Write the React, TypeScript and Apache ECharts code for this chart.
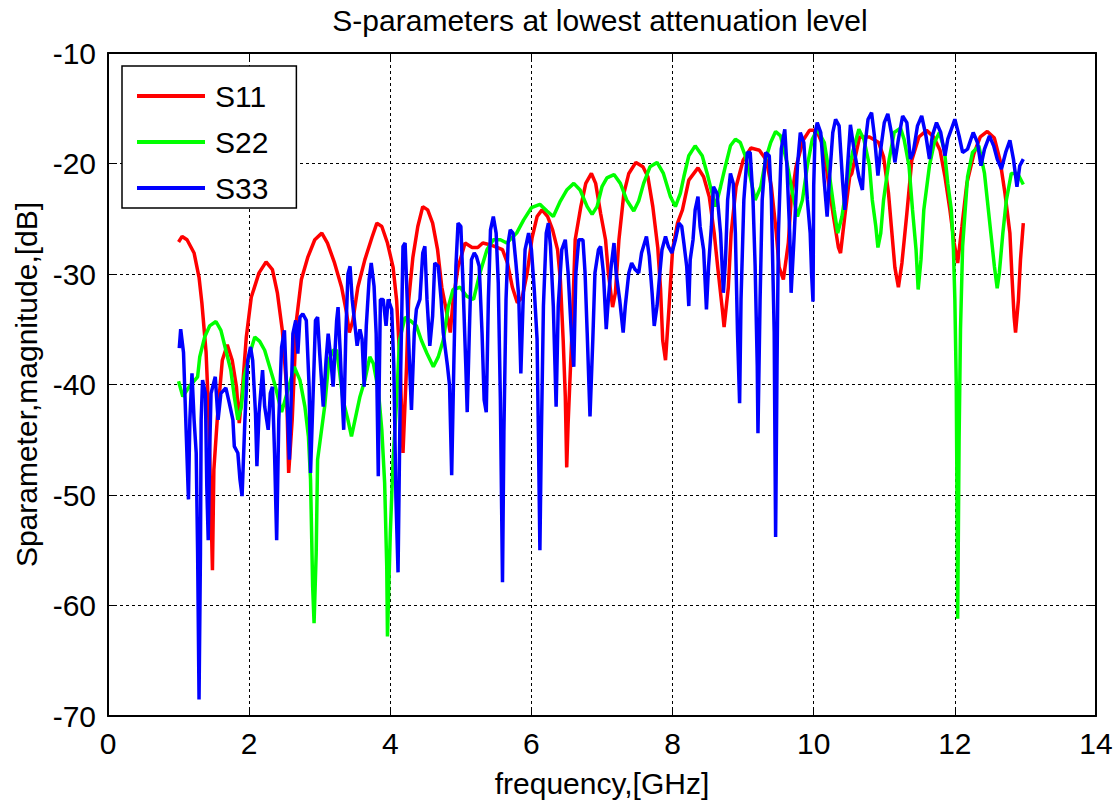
import React, { useEffect, useRef } from "react";
import * as echarts from "echarts";

const chartTitle = "S-parameters at lowest attenuation level";
const xAxisName = "frequency,[GHz]";
const yAxisName = "Sparameter,magnitude,[dB]";
const seriesNames = ["S11", "S22", "S33"];
const seriesColors = ["#ff0000", "#00ff00", "#0000ff"];
const xMin = 0, xMax = 14, xStep = 2;
const yMin = -70, yMax = -10, yStep = 10;

// [frequency GHz, magnitude dB]
const s11: number[][] = [
  [1.0,-27.1],[1.05,-26.6],[1.12,-26.9],[1.22,-28.1],[1.29,-30.3],[1.33,-32.6],[1.39,-37.1],[1.43,-43.2],[1.48,-56.8],[1.50,-47.7],[1.55,-43.0],[1.62,-37.8],[1.69,-36.4],[1.76,-37.8],[1.82,-40.2],[1.86,-43.5],[1.90,-40.8],[1.96,-35.7],[2.03,-32.1],[2.14,-29.9],[2.24,-28.9],[2.33,-29.6],[2.40,-31.7],[2.47,-35.1],[2.53,-40.2],[2.56,-48.0],[2.61,-43.2],[2.67,-34.2],[2.74,-30.5],[2.83,-28.5],[2.93,-26.9],[3.03,-26.3],[3.11,-27.2],[3.21,-29.0],[3.31,-31.2],[3.38,-33.5],[3.42,-35.3],[3.47,-34.2],[3.54,-31.2],[3.64,-28.7],[3.74,-26.7],[3.81,-25.4],[3.88,-25.7],[3.96,-27.2],[4.04,-29.4],[4.09,-32.4],[4.14,-38.4],[4.18,-46.2],[4.23,-38.4],[4.26,-32.4],[4.32,-28.5],[4.39,-25.7],[4.46,-23.9],[4.53,-24.2],[4.60,-25.4],[4.67,-27.8],[4.73,-31.2],[4.80,-33.5],[4.85,-35.3],[4.89,-32.4],[4.96,-29.4],[5.06,-27.2],[5.16,-27.6],[5.24,-27.6],[5.31,-27.2],[5.44,-27.4],[5.59,-27.8],[5.66,-29.0],[5.73,-31.2],[5.80,-32.6],[5.87,-32.1],[5.94,-29.9],[6.01,-26.7],[6.08,-24.8],[6.15,-24.2],[6.23,-24.8],[6.30,-26.0],[6.37,-27.8],[6.41,-30.5],[6.45,-36.0],[6.48,-41.1],[6.50,-47.5],[6.52,-43.5],[6.58,-34.4],[6.62,-26.9],[6.70,-23.9],[6.77,-21.8],[6.85,-20.9],[6.91,-21.8],[6.98,-24.5],[7.05,-26.9],[7.09,-29.9],[7.15,-33.0],[7.19,-31.7],[7.24,-26.9],[7.31,-22.7],[7.38,-20.9],[7.48,-19.9],[7.58,-20.3],[7.65,-21.2],[7.72,-23.9],[7.79,-27.6],[7.83,-31.4],[7.86,-36.0],[7.90,-37.8],[7.95,-33.0],[8.00,-27.8],[8.07,-25.4],[8.14,-24.2],[8.23,-21.5],[8.36,-20.4],[8.44,-21.2],[8.52,-23.0],[8.59,-26.3],[8.64,-29.4],[8.71,-33.5],[8.73,-34.8],[8.79,-31.2],[8.83,-26.3],[8.90,-22.1],[9.00,-19.7],[9.11,-18.6],[9.23,-18.8],[9.33,-19.7],[9.40,-22.1],[9.47,-26.3],[9.51,-29.4],[9.57,-30.5],[9.64,-27.2],[9.68,-23.3],[9.75,-20.3],[9.85,-17.9],[9.94,-17.0],[10.04,-17.0],[10.14,-18.5],[10.21,-21.8],[10.28,-24.8],[10.35,-27.6],[10.38,-28.1],[10.44,-24.8],[10.51,-21.2],[10.54,-20.9],[10.65,-17.6],[10.79,-17.6],[10.92,-18.1],[10.99,-19.4],[11.06,-22.7],[11.10,-25.7],[11.15,-29.4],[11.20,-31.2],[11.25,-29.0],[11.32,-24.5],[11.39,-19.7],[11.49,-17.6],[11.60,-17.0],[11.70,-17.6],[11.79,-18.8],[11.86,-21.2],[11.93,-24.2],[11.99,-27.2],[12.04,-29.0],[12.10,-25.7],[12.17,-21.8],[12.27,-19.1],[12.36,-17.6],[12.46,-17.1],[12.56,-17.7],[12.64,-19.7],[12.71,-22.7],[12.78,-26.3],[12.81,-30.3],[12.84,-33.9],[12.86,-35.3],[12.90,-32.4],[12.93,-28.7],[12.97,-25.4]
];

const s22: number[][] = [
  [1.0,-39.7],[1.06,-41.1],[1.15,-40.2],[1.27,-39.3],[1.30,-37.5],[1.37,-35.7],[1.44,-34.7],[1.53,-34.3],[1.60,-35.1],[1.67,-36.9],[1.74,-38.7],[1.79,-41.1],[1.84,-43.2],[1.89,-42.0],[1.93,-39.3],[2.01,-37.2],[2.08,-35.7],[2.15,-36.1],[2.22,-36.9],[2.29,-38.4],[2.36,-39.9],[2.46,-42.5],[2.55,-40.5],[2.64,-38.4],[2.72,-39.6],[2.79,-42.0],[2.84,-44.7],[2.87,-48.6],[2.90,-58.3],[2.92,-61.6],[2.95,-55.3],[2.97,-46.8],[3.02,-44.4],[3.07,-42.0],[3.13,-37.8],[3.19,-36.9],[3.24,-36.9],[3.28,-38.8],[3.33,-41.4],[3.40,-43.2],[3.45,-44.7],[3.50,-43.2],[3.57,-41.1],[3.64,-39.6],[3.71,-37.5],[3.76,-38.1],[3.83,-40.5],[3.88,-44.1],[3.92,-48.9],[3.95,-56.5],[3.96,-62.8],[4.00,-53.5],[4.04,-46.8],[4.09,-41.4],[4.13,-36.0],[4.21,-33.9],[4.28,-34.2],[4.37,-34.7],[4.44,-36.0],[4.52,-37.2],[4.61,-38.4],[4.68,-37.5],[4.75,-36.0],[4.82,-33.0],[4.89,-31.4],[4.99,-31.2],[5.08,-32.0],[5.18,-32.3],[5.27,-29.9],[5.37,-27.8],[5.46,-26.9],[5.56,-26.9],[5.65,-27.2],[5.79,-26.3],[5.89,-25.1],[6.00,-24.0],[6.12,-23.7],[6.22,-24.3],[6.31,-24.8],[6.41,-23.4],[6.50,-22.4],[6.60,-21.8],[6.69,-22.4],[6.79,-23.9],[6.86,-24.6],[6.93,-23.9],[7.00,-22.1],[7.07,-21.3],[7.17,-21.0],[7.26,-21.8],[7.35,-23.3],[7.45,-24.3],[7.52,-23.4],[7.59,-21.8],[7.68,-20.3],[7.78,-19.9],[7.87,-20.9],[7.97,-23.0],[8.04,-23.9],[8.11,-22.7],[8.16,-21.2],[8.23,-19.3],[8.32,-18.4],[8.42,-19.3],[8.49,-20.9],[8.56,-22.7],[8.61,-23.9],[8.68,-22.1],[8.75,-20.2],[8.82,-18.4],[8.89,-17.8],[8.96,-18.1],[9.03,-19.3],[9.10,-21.2],[9.17,-23.3],[9.25,-22.1],[9.32,-19.6],[9.39,-18.1],[9.46,-17.1],[9.53,-17.5],[9.62,-19.9],[9.70,-22.7],[9.77,-24.8],[9.84,-23.3],[9.91,-20.2],[9.98,-17.8],[10.05,-16.9],[10.15,-18.1],[10.22,-20.9],[10.29,-24.2],[10.34,-26.3],[10.40,-24.8],[10.47,-21.8],[10.55,-19.0],[10.64,-16.9],[10.71,-17.8],[10.79,-20.2],[10.83,-23.3],[10.88,-25.7],[10.91,-27.6],[10.95,-26.3],[10.99,-23.3],[11.07,-19.6],[11.14,-17.2],[11.23,-16.8],[11.28,-17.8],[11.35,-20.2],[11.40,-24.2],[11.45,-27.8],[11.48,-31.4],[11.52,-28.7],[11.56,-24.2],[11.64,-20.2],[11.71,-18.1],[11.78,-17.2],[11.85,-18.7],[11.90,-21.8],[11.95,-24.2],[11.98,-27.8],[12.00,-32.3],[12.02,-40.0],[12.03,-50.0],[12.04,-61.2],[12.06,-45.0],[12.08,-35.0],[12.11,-27.5],[12.18,-21.2],[12.25,-19.0],[12.34,-18.4],[12.42,-20.9],[12.46,-23.3],[12.51,-26.3],[12.56,-29.3],[12.60,-31.3],[12.63,-29.9],[12.68,-26.3],[12.73,-23.3],[12.80,-20.9],[12.89,-20.9],[12.97,-21.9]
];

const s33: number[][] = [
  [1.01,-36.7],[1.03,-35.0],[1.07,-37.1],[1.11,-44.7],[1.14,-50.4],[1.16,-43.2],[1.19,-39.0],[1.22,-43.2],[1.25,-46.2],[1.27,-55.3],[1.29,-68.5],[1.31,-55.3],[1.32,-43.2],[1.34,-39.6],[1.38,-40.8],[1.40,-49.2],[1.42,-54.1],[1.44,-46.2],[1.46,-40.8],[1.52,-39.3],[1.56,-43.2],[1.60,-40.8],[1.67,-40.3],[1.72,-41.7],[1.77,-43.2],[1.79,-45.6],[1.84,-46.2],[1.87,-48.6],[1.90,-50.1],[1.94,-43.2],[1.98,-37.8],[2.02,-36.6],[2.05,-37.8],[2.09,-42.6],[2.11,-47.4],[2.14,-42.6],[2.19,-38.7],[2.22,-42.0],[2.27,-44.1],[2.30,-40.8],[2.33,-40.2],[2.36,-46.2],[2.39,-54.1],[2.42,-43.2],[2.46,-36.6],[2.50,-35.1],[2.53,-40.2],[2.57,-46.8],[2.60,-40.2],[2.62,-35.4],[2.66,-34.2],[2.69,-37.2],[2.72,-33.9],[2.76,-33.6],[2.81,-34.2],[2.85,-40.2],[2.87,-48.0],[2.91,-40.2],[2.94,-34.2],[2.97,-33.9],[3.00,-37.2],[3.05,-42.0],[3.09,-37.8],[3.12,-35.4],[3.15,-37.2],[3.19,-40.2],[3.24,-34.2],[3.26,-33.0],[3.29,-37.0],[3.31,-40.0],[3.34,-44.1],[3.37,-35.4],[3.40,-30.0],[3.43,-29.3],[3.46,-32.3],[3.50,-34.7],[3.53,-36.5],[3.57,-35.0],[3.60,-35.9],[3.63,-40.2],[3.66,-34.7],[3.70,-30.5],[3.73,-29.0],[3.77,-31.1],[3.80,-35.4],[3.83,-48.3],[3.84,-41.4],[3.86,-32.3],[3.90,-32.3],[3.94,-34.7],[3.97,-32.3],[4.02,-33.2],[4.05,-38.3],[4.08,-50.3],[4.11,-57.0],[4.14,-41.4],[4.18,-27.5],[4.21,-27.2],[4.24,-32.3],[4.27,-37.7],[4.30,-42.3],[4.34,-35.3],[4.37,-33.2],[4.42,-32.3],[4.46,-28.1],[4.49,-27.5],[4.52,-32.3],[4.56,-36.5],[4.60,-33.8],[4.63,-29.0],[4.68,-29.3],[4.72,-32.3],[4.75,-35.3],[4.81,-38.3],[4.84,-40.1],[4.87,-48.2],[4.90,-38.3],[4.93,-29.3],[4.96,-25.4],[5.00,-25.7],[5.03,-30.8],[5.07,-38.3],[5.09,-42.5],[5.12,-35.3],[5.15,-28.7],[5.19,-28.1],[5.22,-28.4],[5.26,-29.3],[5.30,-35.3],[5.33,-41.4],[5.36,-42.5],[5.39,-32.3],[5.42,-26.0],[5.46,-24.8],[5.50,-26.3],[5.53,-30.8],[5.56,-41.4],[5.59,-57.9],[5.61,-44.3],[5.64,-32.3],[5.67,-27.2],[5.70,-26.0],[5.74,-26.3],[5.78,-29.0],[5.82,-32.0],[5.85,-39.0],[5.88,-32.9],[5.91,-27.8],[5.96,-26.3],[6.00,-27.8],[6.04,-31.4],[6.08,-35.9],[6.10,-45.0],[6.12,-55.0],[6.14,-45.0],[6.17,-32.9],[6.21,-26.3],[6.24,-25.4],[6.27,-27.5],[6.31,-32.9],[6.35,-42.0],[6.38,-32.9],[6.43,-27.8],[6.48,-26.9],[6.52,-29.9],[6.57,-35.9],[6.60,-38.4],[6.63,-29.9],[6.67,-26.9],[6.73,-26.9],[6.76,-29.9],[6.79,-35.3],[6.83,-42.9],[6.87,-35.9],[6.90,-29.9],[6.95,-27.8],[6.98,-27.5],[7.02,-29.9],[7.06,-35.0],[7.09,-32.3],[7.13,-29.3],[7.17,-27.2],[7.20,-29.9],[7.25,-32.3],[7.30,-35.3],[7.33,-32.9],[7.38,-29.9],[7.42,-29.0],[7.47,-29.6],[7.52,-29.9],[7.56,-28.1],[7.63,-26.6],[7.67,-28.4],[7.71,-31.7],[7.74,-34.7],[7.78,-32.9],[7.82,-29.9],[7.85,-27.8],[7.90,-26.6],[7.94,-27.5],[7.99,-28.1],[8.04,-26.9],[8.09,-25.4],[8.13,-25.7],[8.16,-27.2],[8.20,-29.3],[8.23,-32.9],[8.25,-28.7],[8.29,-26.9],[8.32,-24.2],[8.36,-23.0],[8.39,-25.7],[8.44,-27.8],[8.48,-33.2],[8.51,-29.3],[8.55,-25.7],[8.58,-22.1],[8.63,-22.7],[8.68,-26.3],[8.72,-31.7],[8.75,-28.7],[8.78,-23.3],[8.82,-20.9],[8.86,-21.8],[8.89,-26.3],[8.92,-35.3],[8.95,-41.7],[8.97,-32.3],[9.01,-23.3],[9.06,-19.0],[9.10,-19.0],[9.14,-23.3],[9.17,-29.3],[9.20,-38.3],[9.21,-44.4],[9.24,-32.3],[9.27,-23.3],[9.32,-19.0],[9.37,-19.3],[9.40,-23.3],[9.44,-35.3],[9.46,-53.8],[9.48,-38.3],[9.50,-26.3],[9.54,-18.7],[9.59,-16.9],[9.62,-20.2],[9.66,-26.3],[9.68,-31.7],[9.72,-26.9],[9.77,-20.2],[9.81,-17.2],[9.86,-18.1],[9.91,-23.3],[9.95,-26.3],[9.97,-30.0],[9.99,-32.5],[10.00,-22.0],[10.02,-17.2],[10.05,-16.3],[10.10,-17.2],[10.15,-21.7],[10.19,-24.8],[10.22,-21.7],[10.27,-17.2],[10.31,-16.0],[10.36,-16.6],[10.41,-21.7],[10.44,-24.2],[10.48,-20.2],[10.52,-16.5],[10.57,-18.7],[10.64,-21.2],[10.69,-22.4],[10.72,-18.7],[10.77,-16.0],[10.82,-15.4],[10.86,-17.5],[10.91,-21.1],[10.95,-18.7],[11.00,-16.3],[11.05,-15.5],[11.10,-17.2],[11.15,-19.9],[11.20,-17.8],[11.26,-15.7],[11.32,-16.3],[11.37,-19.6],[11.41,-19.0],[11.47,-16.6],[11.53,-15.7],[11.59,-17.5],[11.64,-19.6],[11.68,-17.5],[11.74,-16.3],[11.80,-17.2],[11.86,-19.3],[11.90,-17.8],[11.95,-16.9],[12.00,-16.0],[12.06,-17.5],[12.11,-19.0],[12.18,-18.7],[12.26,-17.2],[12.32,-18.1],[12.37,-20.2],[12.42,-18.7],[12.49,-17.5],[12.55,-18.4],[12.60,-19.6],[12.66,-20.5],[12.72,-19.0],[12.78,-17.9],[12.83,-19.6],[12.88,-22.1],[12.92,-20.2],[12.97,-19.6]
];

const seriesData = [s11, s22, s33];
const FONT = "'Liberation Sans', Arial, Helvetica, sans-serif";
const LEGEND_ICON = "path://M0,0 L68,0 L68,4 L0,4 Z";

export default function App() {
  const ref = useRef<HTMLDivElement>(null);
  useEffect(() => {
    document.body.style.margin = "0";
    const chart = echarts.init(ref.current!, null, { renderer: "svg" });
    const gridLine = { show: true, lineStyle: { color: "#000", type: [3, 3], width: 1 } };
    const axisLineStyle = { show: true, onZero: false, lineStyle: { color: "#000", width: 2 } };
    const tick = { show: true, inside: true, length: 8, lineStyle: { color: "#000", width: 1 } };
    chart.setOption({
      animation: false,
      backgroundColor: "#fff",
      title: {
        text: chartTitle,
        left: 595,
        top: 0,
        textAlign: "center",
        textStyle: { fontFamily: FONT, fontSize: 30, fontWeight: "normal", color: "#000" },
      },
      grid: { left: 108, right: 22, top: 53, bottom: 93, containLabel: false },
      legend: {
        data: seriesNames.map((n) => ({ name: n, icon: LEGEND_ICON })),
        orient: "vertical",
        left: 122,
        top: 66,
        itemWidth: 68,
        itemHeight: 4,
        itemGap: 16,
        padding: [15, 28, 5, 15],
        borderColor: "#000",
        borderWidth: 1.5,
        backgroundColor: "#fff",
        textStyle: { fontFamily: FONT, fontSize: 30, color: "#000", padding: [0, 0, 0, 5], lineHeight: 30 },
      },
      xAxis: [
        {
          type: "value", min: xMin, max: xMax, interval: xStep, position: "bottom",
          name: xAxisName, nameLocation: "middle", nameGap: 52,
          nameTextStyle: { fontFamily: FONT, fontSize: 30, color: "#000", verticalAlign: "top" },
          axisLine: axisLineStyle, axisTick: tick,
          axisLabel: { fontFamily: FONT, fontSize: 30, color: "#000", margin: 12 },
          splitLine: gridLine,
        },
        {
          type: "value", min: xMin, max: xMax, interval: xStep, position: "top",
          axisLine: axisLineStyle, axisTick: tick, axisLabel: { show: false }, splitLine: { show: false },
        },
      ],
      yAxis: [
        {
          type: "value", min: yMin, max: yMax, interval: yStep, position: "left",
          name: yAxisName, nameLocation: "middle", nameGap: 63,
          nameTextStyle: { fontFamily: FONT, fontSize: 30, color: "#000" },
          axisLine: axisLineStyle, axisTick: tick,
          axisLabel: { fontFamily: FONT, fontSize: 30, color: "#000", margin: 12 },
          splitLine: gridLine,
        },
        {
          type: "value", min: yMin, max: yMax, interval: yStep, position: "right",
          axisLine: axisLineStyle, axisTick: tick, axisLabel: { show: false }, splitLine: { show: false },
        },
      ],
      series: seriesNames.map((name, i) => ({
        name,
        type: "line",
        data: seriesData[i],
        xAxisIndex: 0,
        yAxisIndex: 0,
        symbol: "none",
        showSymbol: false,
        color: seriesColors[i],
        lineStyle: { color: seriesColors[i], width: 3.5 },
        z: 2 + i,
      })),
    });
    return () => chart.dispose();
  }, []);
  return <div ref={ref} style={{ width: 1118, height: 809, background: "#fff" }} />;
}
